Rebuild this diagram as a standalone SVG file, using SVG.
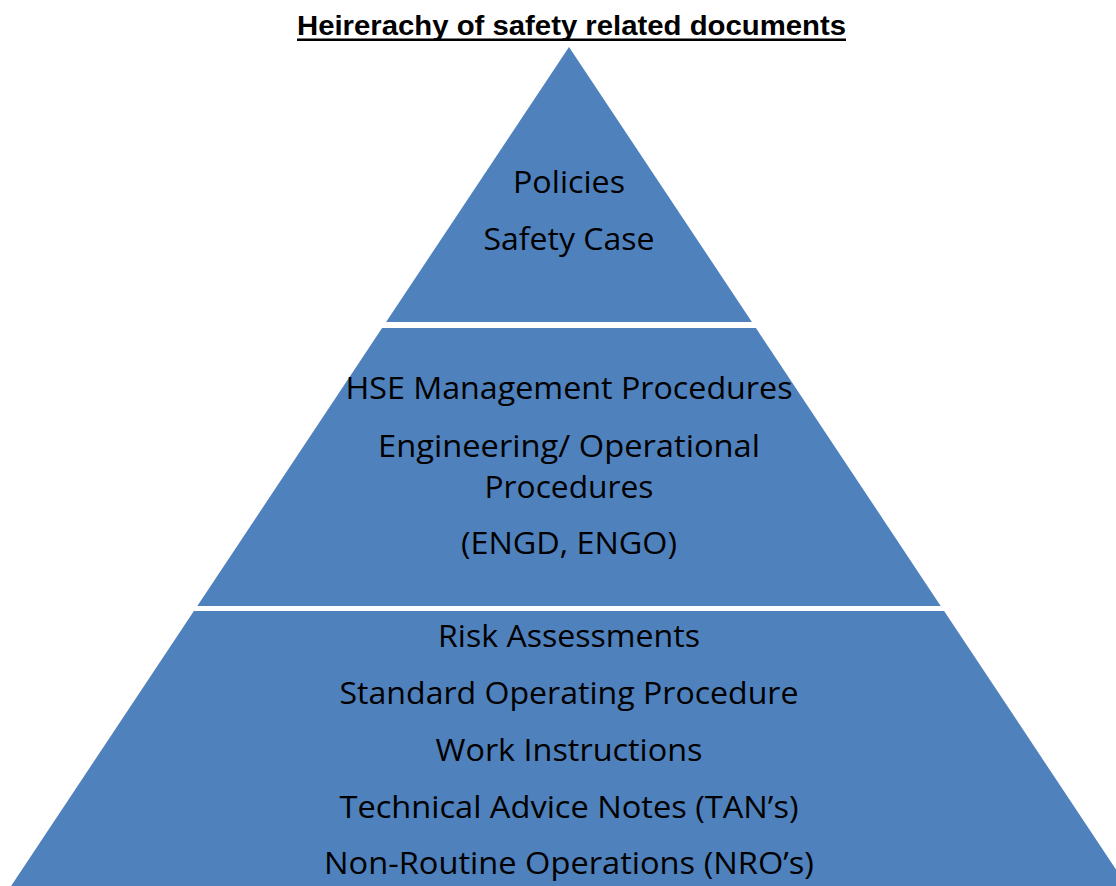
<svg xmlns="http://www.w3.org/2000/svg" width="1116" height="886" viewBox="0 0 1116 886">
<style>
.tier{fill:#4F81BD;}
.t{font-family:"Open Sans","Liberation Sans",sans-serif;font-size:31.5px;fill:#000;text-anchor:middle;}
.title{font-family:"Liberation Sans",Arial,sans-serif;font-size:27px;font-weight:bold;fill:#000;}
</style>
<rect width="1116" height="886" fill="#fff"/>
<g id="title">
<text class="title" x="297" y="35" textLength="549" lengthAdjust="spacingAndGlyphs">Heirerachy of safety related documents</text>
<rect x="297" y="38.5" width="549" height="2.5" fill="#000"/>
</g>
<g id="tier-top">
<polygon class="tier" points="569,47 751.9,322 386.1,322"/>
<text class="t" x="569" y="193" textLength="112" lengthAdjust="spacingAndGlyphs">Policies</text>
<text class="t" x="569" y="250" textLength="171" lengthAdjust="spacingAndGlyphs">Safety Case</text>
</g>
<g id="tier-middle">
<polygon class="tier" points="382.1,328 755.9,328 940.7,606 197.3,606"/>
<text class="t" x="569" y="399" textLength="447" lengthAdjust="spacingAndGlyphs">HSE Management Procedures</text>
<text class="t" x="569" y="457" textLength="382" lengthAdjust="spacingAndGlyphs">Engineering/ Operational</text>
<text class="t" x="569" y="498" textLength="169" lengthAdjust="spacingAndGlyphs">Procedures</text>
<text class="t" x="569" y="554" textLength="216" lengthAdjust="spacingAndGlyphs">(ENGD, ENGO)</text>
</g>
<g id="tier-bottom">
<polygon class="tier" points="193.9,611 944.1,611 1127,886 11.1,886"/>
<text class="t" x="569" y="647" textLength="262" lengthAdjust="spacingAndGlyphs">Risk Assessments</text>
<text class="t" x="569" y="704" textLength="459" lengthAdjust="spacingAndGlyphs">Standard Operating Procedure</text>
<text class="t" x="569" y="761" textLength="267" lengthAdjust="spacingAndGlyphs">Work Instructions</text>
<text class="t" x="569" y="818" textLength="459" lengthAdjust="spacingAndGlyphs">Technical Advice Notes (TAN’s)</text>
<text class="t" x="569" y="874" textLength="490" lengthAdjust="spacingAndGlyphs">Non-Routine Operations (NRO’s)</text>
</g>
<g id="connectors"></g>
</svg>
